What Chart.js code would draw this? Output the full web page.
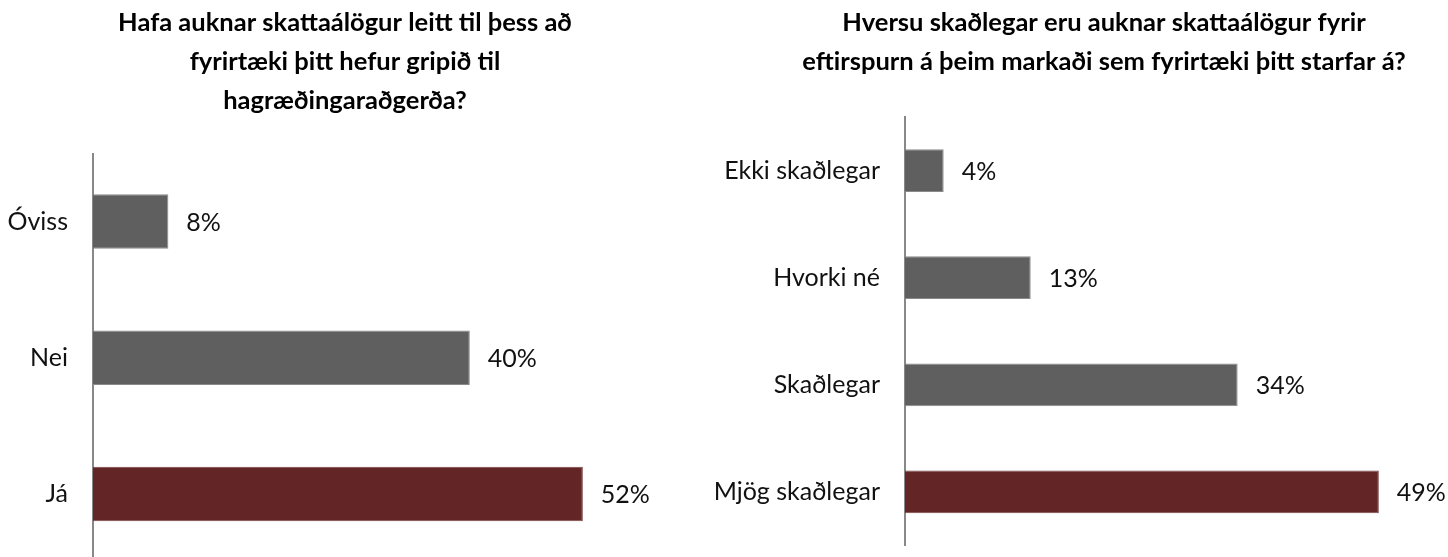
<!DOCTYPE html>
<html>
<head>
<meta charset="utf-8">
<script src="https://cdn.jsdelivr.net/npm/chart.js@4"></script>
<style>
  html, body { margin: 0; padding: 0; background: #fff; overflow: hidden; }
  body { width: 1448px; height: 557px; position: relative; }
  .box { position: absolute; top: 0; }
</style>
</head>
<body>
<div class="box" style="left:0; width:690px; height:562px"><canvas id="leftChart"></canvas></div>
<div class="box" style="left:700px; width:808px; height:557px"><canvas id="rightChart"></canvas></div>
<script>
// survey answers, percent

const leftTitle = ['Hafa auknar skattaálögur leitt til þess að', 'fyrirtæki þitt hefur gripið til', 'hagræðingaraðgerða?']
const leftLabels = ['Óviss', 'Nei', 'Já']
const leftValues = [8, 40, 52]

const rightTitle = ['Hversu skaðlegar eru auknar skattaálögur fyrir', 'eftirspurn á þeim markaði sem fyrirtæki þitt starfar á?']
const rightLabels = ['Ekki skaðlegar', 'Hvorki né', 'Skaðlegar', 'Mjög skaðlegar']
const rightValues = [4, 13, 34.4, 49]

const grey = '#5f5f5f'
const maroon = '#632526'
const fontFamily = 'Lato, "Open Sans", sans-serif'

// percent labels to the right of each bar
const valueLabels = {
  id: 'valueLabels',
  afterDatasetsDraw(chart) {
    const ctx = chart.ctx
    const values = chart.data.datasets[0].data
    ctx.save()
    ctx.font = '25px ' + fontFamily
    ctx.fillStyle = '#111'
    ctx.textBaseline = 'middle'
    ctx.textAlign = 'left'
    chart.getDatasetMeta(0).data.forEach((bar, i) => {
      ctx.fillText(Math.round(values[i]) + '%', bar.x + 18, bar.y + 1)
    })
    ctx.restore()
  }
}

function makeChart(id, title, labels, values, axisWidth, xMax, titleBottom, padBottom) {
  const colors = values.map((v, i) => i === values.length - 1 ? maroon : grey)
  const borders = values.map((v, i) => i === values.length - 1 ? '#7a4546' : '#8a8a8a')
  return new Chart(document.getElementById(id).getContext('2d'), {
    type: 'bar',
    data: {
      labels: labels,
      datasets: [{
        data: values,
        backgroundColor: colors,
        borderColor: borders,
        borderWidth: 1,
        barPercentage: 0.4,
        categoryPercentage: 1
      }]
    },
    options: {
      indexAxis: 'y',
      responsive: true,
      maintainAspectRatio: false,
      animation: false,
      layout: { padding: { top: 0, right: 0, bottom: padBottom, left: 0 } },
      scales: {
        x: { display: false, min: 0, max: xMax },
        y: {
          grid: { display: false },
          border: { display: true, color: '#888888', width: 2 },
          ticks: { color: '#111', padding: 17, font: { family: fontFamily, size: 25 } },
          afterFit: (scale) => {
            scale.width = axisWidth
            // no extra room for the tick labels above/below the bars
            scale.paddingTop = 0
            scale.paddingBottom = 0
          }
        }
      },
      plugins: {
        legend: { display: false },
        tooltip: { enabled: false },
        title: {
          display: true,
          text: title,
          color: '#000',
          font: { family: fontFamily, size: 25.5, weight: 'bold', lineHeight: 39 / 25.5 },
          padding: { top: 3, bottom: titleBottom }
        }
      }
    },
    plugins: [valueLabels]
  })
}

const leftChart = makeChart('leftChart', leftTitle, leftLabels, leftValues, 93, 597 / 9.42, 33.5, 0)
const rightChart = makeChart('rightChart', rightTitle, rightLabels, rightValues, 205, 603 / 9.67, 36, 11.5)
</script>
</body>
</html>
